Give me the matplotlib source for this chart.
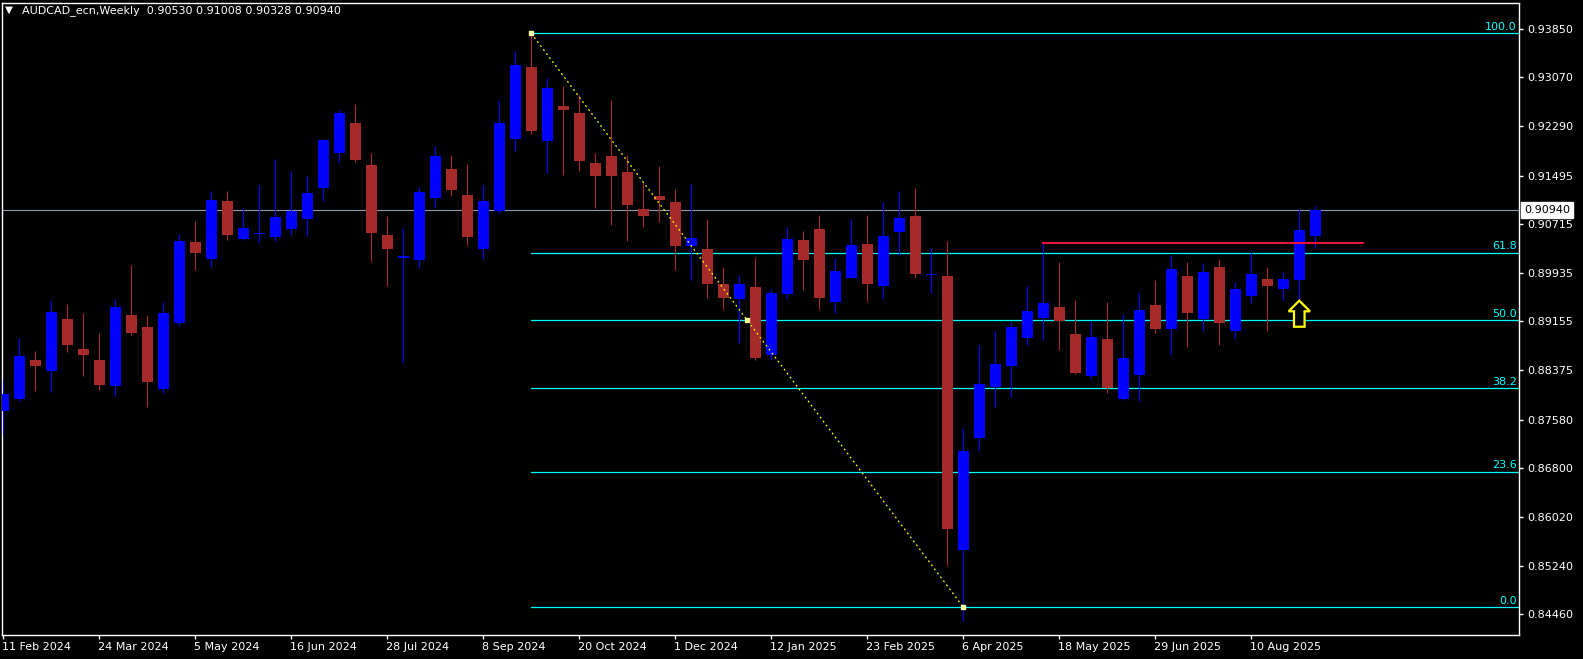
import matplotlib.pyplot as plt
import matplotlib.transforms as mtransforms
import numpy as np

# weekly candles AUDCAD
opens = [0.87720, 0.87913, 0.88538, 0.88364, 0.89195, 0.88712, 0.88538, 0.88119, 0.89259, 0.89066,
         0.88081, 0.89124, 0.90431, 0.90154, 0.91088, 0.90476, 0.90553, 0.90502, 0.90631, 0.90798,
         0.91288, 0.91854, 0.92337, 0.91661, 0.90541, 0.90174, 0.90141, 0.91140, 0.91597, 0.91185,
         0.90322, 0.90933, 0.92086, 0.93233, 0.92041, 0.92608, 0.92498, 0.91693, 0.91809, 0.91552,
         0.90959, 0.91165, 0.91069, 0.90373, 0.90315, 0.89755, 0.89523, 0.89710, 0.88621, 0.89600,
         0.90463, 0.90637, 0.89472, 0.89858, 0.90399, 0.89716, 0.90592, 0.90843, 0.89897, 0.89884,
         0.85498, 0.87295, 0.88106, 0.88441, 0.88892, 0.89214, 0.89388, 0.88956, 0.88287, 0.88873,
         0.87913, 0.88299, 0.89420, 0.89034, 0.89884, 0.89201, 0.90025, 0.88995, 0.89562, 0.89839,
         0.89671, 0.89819, 0.90530]
highs = [0.88222, 0.88898, 0.88686, 0.89491, 0.89439, 0.89298, 0.88976, 0.89517, 0.90058, 0.89259,
         0.89465, 0.90560, 0.90766, 0.91249, 0.91249, 0.90979, 0.91346, 0.91758, 0.91565, 0.91494,
         0.92086, 0.92550, 0.92640, 0.91854, 0.90843, 0.90637, 0.91313, 0.91970, 0.91822, 0.91680,
         0.91346, 0.92692, 0.93490, 0.93773, 0.93059, 0.92930, 0.92788, 0.91854, 0.92704, 0.91822,
         0.91384, 0.91648, 0.91281, 0.91358, 0.90798, 0.90025, 0.89903, 0.90174, 0.89678, 0.90669,
         0.90605, 0.90863, 0.90174, 0.90798, 0.90863, 0.91069, 0.91249, 0.91294, 0.90335, 0.90444,
         0.87430, 0.88776, 0.89001, 0.89156, 0.89723, 0.90418, 0.90109, 0.89497, 0.89169, 0.89465,
         0.89272, 0.89613, 0.89819, 0.90219, 0.90109, 0.90090, 0.90154, 0.89787, 0.90264, 0.90025,
         0.89948, 0.90959, 0.91008]
lows = [0.87333, 0.87887, 0.88042, 0.88029, 0.88667, 0.88287, 0.88061, 0.87965, 0.88943, 0.87791,
        0.88016, 0.89079, 0.89987, 0.90025, 0.90463, 0.90463, 0.90431, 0.90438, 0.90541, 0.90528,
        0.91094, 0.91719, 0.91719, 0.90128, 0.89716, 0.88512, 0.90019, 0.90979, 0.91159, 0.90386,
        0.90161, 0.90895, 0.91893, 0.92163, 0.91539, 0.91507, 0.91571, 0.90979, 0.90708, 0.90438,
        0.90669, 0.90753, 0.89987, 0.89819, 0.89536, 0.89362, 0.88815, 0.88531, 0.88531, 0.89536,
        0.89652, 0.89362, 0.89298, 0.89845, 0.89491, 0.89536, 0.90219, 0.89858, 0.89613, 0.85260,
        0.84358, 0.87089, 0.87791, 0.87952, 0.88782, 0.88866, 0.88705, 0.88312, 0.88254, 0.88016,
        0.87900, 0.87887, 0.88976, 0.88641, 0.88750, 0.88995, 0.88782, 0.88898, 0.89459, 0.89008,
        0.89504, 0.89510, 0.90328]
closes = [0.87990, 0.88609, 0.88435, 0.89304, 0.88782, 0.88621, 0.88145, 0.89388, 0.88969, 0.88190,
          0.89291, 0.90444, 0.90257, 0.91101, 0.90547, 0.90657, 0.90566, 0.90830, 0.90933, 0.91217,
          0.92067, 0.92498, 0.91751, 0.90566, 0.90309, 0.90199, 0.91230, 0.91809, 0.91268, 0.90502,
          0.91088, 0.92337, 0.93265, 0.92215, 0.92898, 0.92550, 0.91732, 0.91494, 0.91494, 0.91030,
          0.90850, 0.91107, 0.90373, 0.90496, 0.89761, 0.89536, 0.89755, 0.88576, 0.89613, 0.90476,
          0.90141, 0.89536, 0.89967, 0.90380, 0.89761, 0.90528, 0.90811, 0.89922, 0.89909, 0.85833,
          0.87082, 0.88151, 0.88473, 0.89066, 0.89323, 0.89452, 0.89156, 0.88332, 0.88905, 0.88093,
          0.88570, 0.89336, 0.89027, 0.89993, 0.89298, 0.89948, 0.89137, 0.89678, 0.89916, 0.89729,
          0.89839, 0.90624, 0.90940]

date_labels = ['11 Feb 2024', '24 Mar 2024', '5 May 2024', '16 Jun 2024', '28 Jul 2024',
               '8 Sep 2024', '20 Oct 2024', '1 Dec 2024', '12 Jan 2025', '23 Feb 2025',
               '6 Apr 2025', '18 May 2025', '29 Jun 2025', '10 Aug 2025']
price_ticks = [0.93850, 0.93070, 0.92290, 0.91495, 0.90715, 0.89935, 0.89155,
               0.88375, 0.87580, 0.86800, 0.86020, 0.85240, 0.84460]

# fibonacci anchors
fib_start = 33
fib_end = 60
fib_high = 0.93773
fib_low = 0.84577
fib_levels = [0.0, 23.6, 38.2, 50.0, 61.8, 100.0]

# resistance line from the high of bar 65
line_bar = 65
line_end = 85
arrow_bar = 81

bull = '#0000ff'
bear = '#a52a2a'
fib_color = '#00ffff'

n = len(opens)
x = np.arange(n)
o = np.array(opens)
c = np.array(closes)
h = np.array(highs)
l = np.array(lows)

fig = plt.figure(figsize=(15.83, 6.59), dpi=100, facecolor='black')
ax = fig.add_axes([2 / 1583, 24 / 659, 1517.3 / 1583, 632.5 / 659], facecolor='black')

ax.set_xlim(-0.08, 94.75)
ax.set_ylim(0.84130, 0.94268)

# current price line
ax.axhline(c[-1], color='#8a9aaa', linewidth=0.8, zorder=1)

# fibonacci retracement
for lev in fib_levels:
    price = fib_low + (fib_high - fib_low) * lev / 100
    ax.plot([fib_start, 94.75], [price, price], color=fib_color, linewidth=0.9, zorder=2)
    ax.text(94.6, price + 0.0002, f'{lev:.1f}', color=fib_color, fontsize=8,
            ha='right', va='bottom', zorder=5)

# candles
colors = np.where(c >= o, bull, bear)
ax.vlines(x, l, h, colors=colors, linewidth=0.8, zorder=3)
body_lo = np.minimum(o, c)
body_h = np.maximum(np.abs(c - o), 0.00012)
ax.bar(x, body_h, bottom=body_lo, width=0.69, color=colors, linewidth=0, zorder=4)

# trend line used for the fib
ax.plot([fib_start, fib_end], [fib_high, fib_low], color='yellow',
        linestyle=(0, (1.5, 2.5)), linewidth=0.9, zorder=6)
ax.plot([fib_start, (fib_start + fib_end) / 2, fib_end],
        [fib_high, (fib_high + fib_low) / 2, fib_low],
        linestyle='', marker='s', markersize=2.5, color='#ffffa0', zorder=7)

# red horizontal line
ax.plot([line_bar, line_end], [h[line_bar], h[line_bar]], color='#e8143c', linewidth=1.5, zorder=5)

# yellow up arrow under bar 81
tip = l[arrow_bar] - 0.00022
ax_ = arrow_bar
arrow = np.array([
    [ax_, tip],
    [ax_ + 0.67, tip - 0.0017],
    [ax_ + 0.33, tip - 0.0017],
    [ax_ + 0.33, tip - 0.00417],
    [ax_ - 0.33, tip - 0.00417],
    [ax_ - 0.33, tip - 0.0017],
    [ax_ - 0.67, tip - 0.0017],
])
ax.add_patch(plt.Polygon(arrow, closed=True, facecolor='black', edgecolor='yellow',
                         linewidth=1.6, zorder=8))

# axes styling
for s in ax.spines.values():
    s.set_color('white')
    s.set_linewidth(1)

ax.yaxis.tick_right()
ax.set_yticks(price_ticks)
ax.set_yticklabels([f'{p:.5f}' for p in price_ticks])
ax.tick_params(axis='y', colors='white', labelcolor='white', labelsize=8,
               length=3, width=1, pad=3, direction='out')

ax.set_xticks(x[::6][:len(date_labels)])
ax.set_xticklabels(date_labels)
ax.tick_params(axis='x', colors='white', labelcolor='white', labelsize=8,
               length=3, width=1, pad=2, direction='out')
offset = mtransforms.ScaledTranslation(-1 / 100, 0, fig.dpi_scale_trans)
for lab in ax.get_xticklabels():
    lab.set_ha('left')
    lab.set_transform(lab.get_transform() + offset)

# current price box
trans = mtransforms.blended_transform_factory(ax.transAxes, ax.transData)
ax.text(1.0031, c[-1], f'{c[-1]:.5f}', transform=trans, color='black', fontsize=8,
        ha='left', va='center', zorder=10,
        bbox=dict(facecolor='white', edgecolor='white', boxstyle='square,pad=0.28'))

# header
fig.text(5 / 1583, 1 - 10 / 659, '\u25bc', color='white', fontsize=7.5, va='center', ha='left')
fig.text(22 / 1583, 1 - 11 / 659,
         f'AUDCAD_ecn,Weekly  {o[-1]:.5f} {h[-1]:.5f} {l[-1]:.5f} {c[-1]:.5f}',
         color='white', fontsize=8, va='center', ha='left')

plt.savefig('out.png', dpi=100, facecolor='black')
